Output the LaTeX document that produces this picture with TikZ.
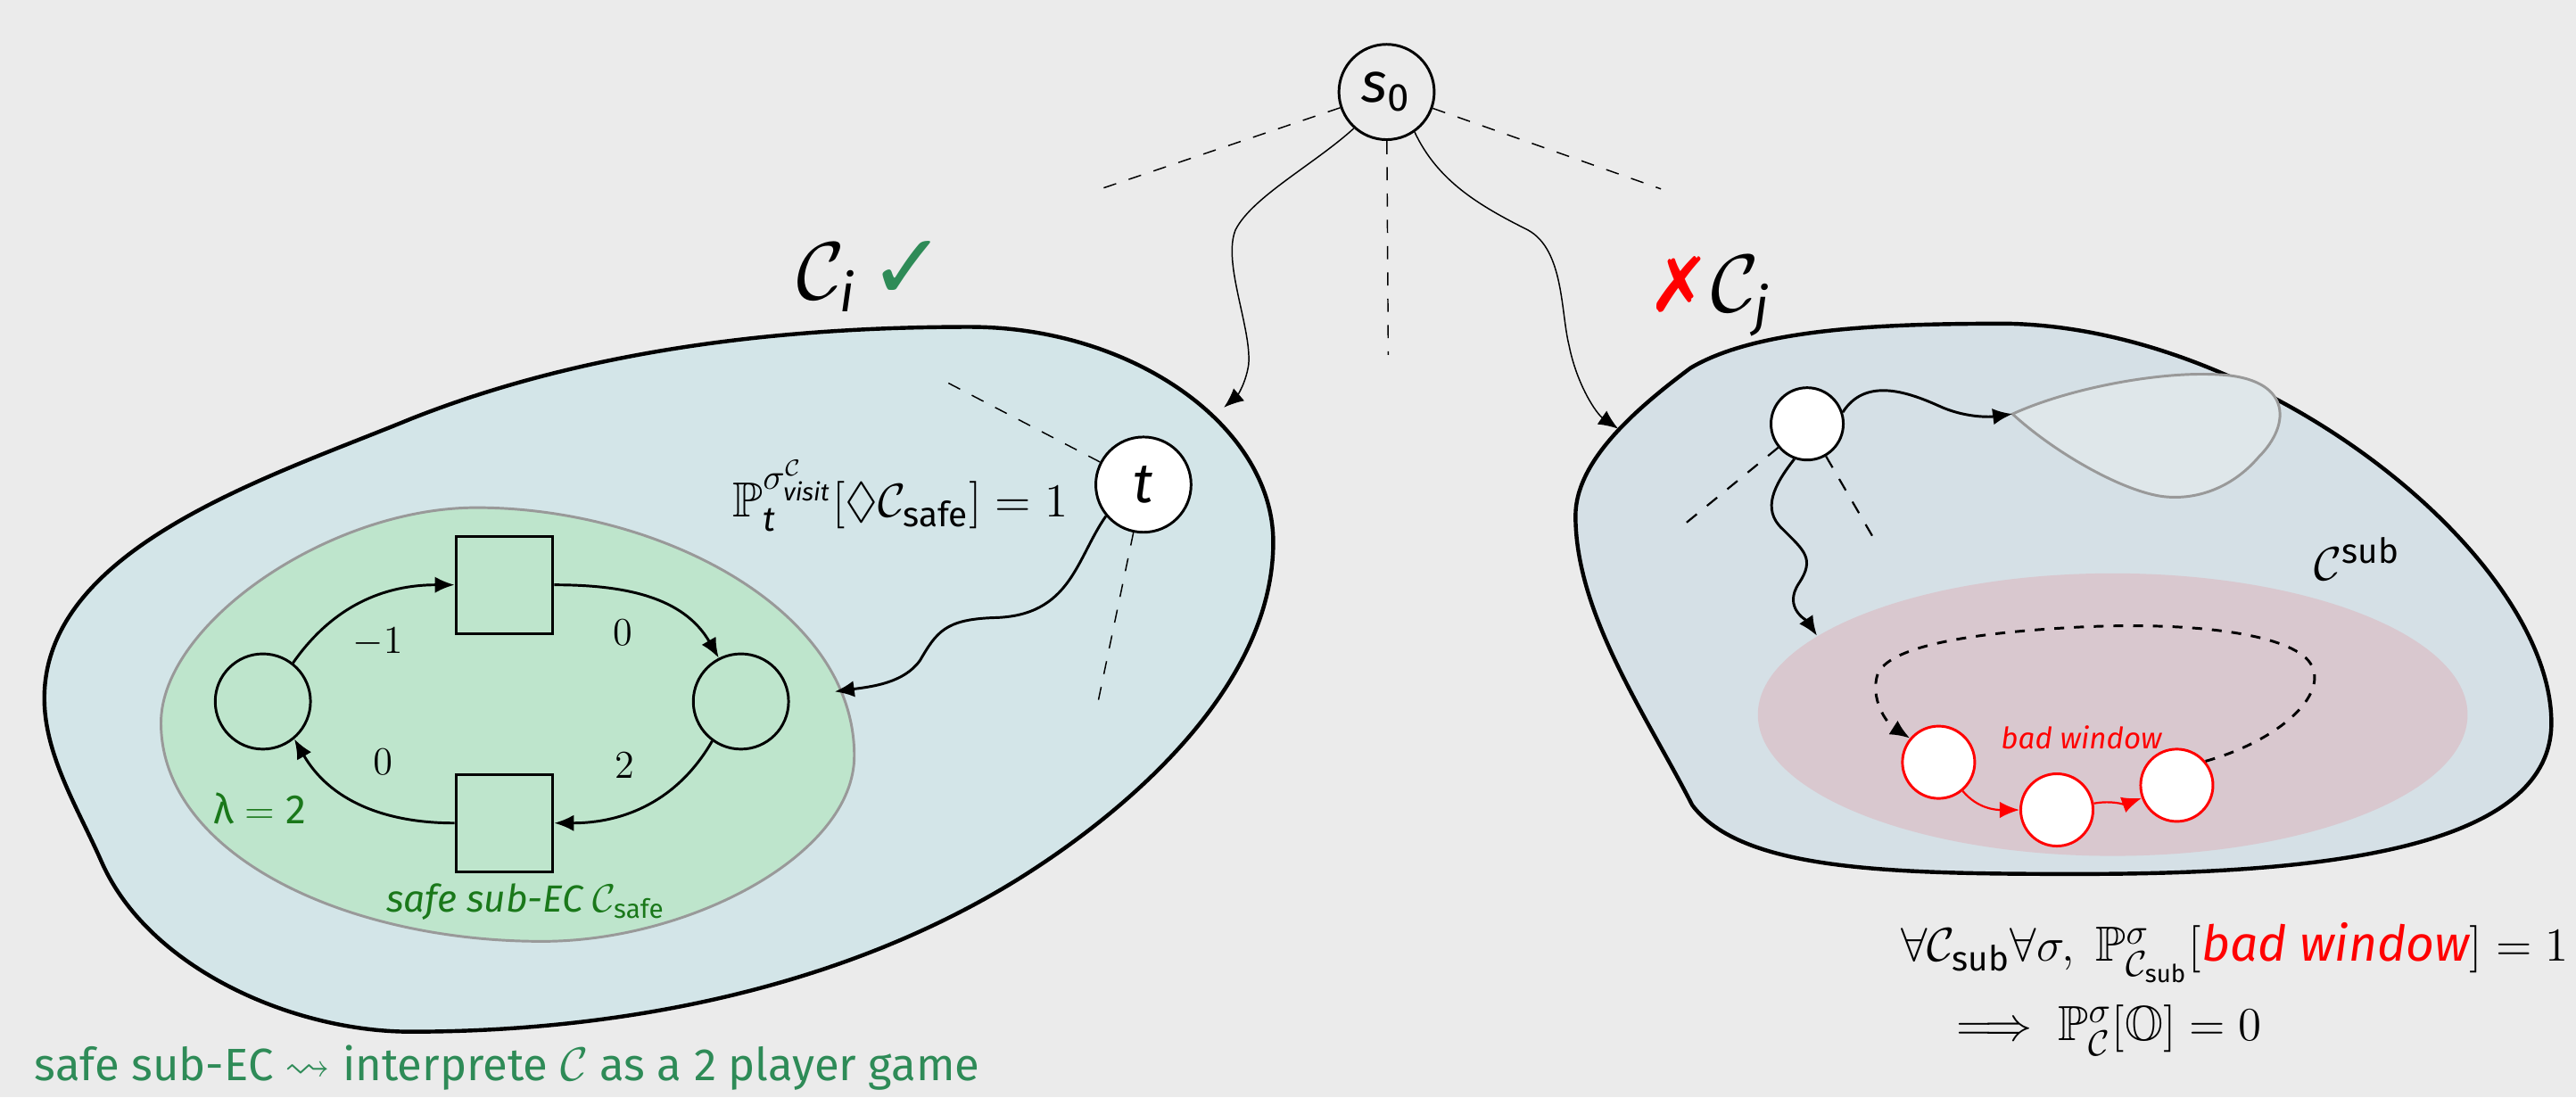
\documentclass[tikz,border=0pt]{standalone}
\usepackage{amsmath,amssymb}
\usepackage[no-math]{fontspec}
\setmainfont{Fira Sans}
\newfontfamily\dejavu{DejaVu Sans}
\usetikzlibrary{arrows.meta}
\definecolor{bg}{HTML}{EBEBEB}
\definecolor{blobA}{HTML}{D3E5E8}
\definecolor{blobB}{HTML}{D5E0E6}
\definecolor{safegreen}{HTML}{BEE5CC}
\definecolor{pinkish}{HTML}{D9C8CF}
\definecolor{greyblob}{HTML}{DFE7EA}
\definecolor{okgreen}{HTML}{2E8B57}
\definecolor{dgreen}{HTML}{1A781A}
\newcommand\mi[1]{\text{\itshape #1}}
\newcommand\mr[1]{\text{\upshape #1}}
\begin{document}
\begin{tikzpicture}[x=0.5pt,y=-0.5pt,
  state/.style={circle,draw,line width=0.8pt,minimum size=29pt,inner sep=0pt},
  sqbox/.style={rectangle,draw,line width=0.8pt,minimum size=29.5pt,inner sep=0pt},
  smallst/.style={circle,draw,line width=0.8pt,minimum size=22pt,inner sep=0pt,fill=white},
  arr/.style={line width=0.8pt,-{Latex[length=6pt,width=5pt]}},
  thinarr/.style={line width=0.4pt,-{Latex[length=6pt,width=5pt]}},
  dsh/.style={line width=0.4pt,dash pattern=on 4pt off 4pt},
  blobline/.style={line width=1.2pt},
  lbl/.style={font=\fontsize{12}{14}\selectfont},
  big/.style={font=\fontsize{15}{18}\selectfont},
]
\useasboundingbox (0,0) rectangle (1568,668);
\fill[bg] (0,0) rectangle (1568,668);

% ---------- left end component C_i
\draw[blobline,fill=blobA] (27,425) .. controls (27,333) and (165,290) .. (250,255) .. controls (356,213) and (475,199) .. (590,199) .. controls (690,199) and (775,260) .. (775,330) .. controls (775,415) and (692,490) .. (620,535) .. controls (512,602) and (377,628) .. (250,628) .. controls (179,628) and (91,590) .. (62,525) .. controls (48,493) and (27,460) .. (27,425) -- cycle;
\draw[line width=0.8pt,draw=black!40,fill=safegreen] (290,309) .. controls (400,309) and (520,370) .. (520,460) .. controls (520,520) and (420,573) .. (330,573) .. controls (210,573) and (98,520) .. (98,440) .. controls (98,380) and (200,309) .. (290,309) -- cycle;

% ---------- right end component C_j
\draw[blobline,fill=blobB] (1222,197) .. controls (1380,200) and (1553,340) .. (1553,440) .. controls (1553,520) and (1400,532) .. (1265,532) .. controls (1150,532) and (1060,530) .. (1030,490) .. controls (1003,437) and (959,374) .. (959,314) .. controls (959,280) and (997,248) .. (1029,224) .. controls (1071,199) and (1152,197) .. (1222,197) -- cycle;
\fill[pinkish] (1286,435) ellipse [x radius=108pt,y radius=43pt];
\draw[line width=0.8pt,draw=black!40,fill=greyblob] (1225,252) .. controls (1260,236) and (1315,226) .. (1350,228) .. controls (1395,230) and (1395,258) .. (1375,278) .. controls (1358,298) and (1335,305) .. (1315,302) .. controls (1290,298) and (1250,275) .. (1225,252) -- cycle;

% ---------- nodes
\node[state,font=\fontsize{17}{19}\selectfont] (s0) at (844,56) {$\mi{s}_{\mr{0}}$};
\node[state,fill=white,font=\fontsize{17}{19}\selectfont] (t) at (696,295) {$\mi{t}$};
\node[state] (L) at (160,427) {};
\node[state] (R) at (451,427) {};
\node[sqbox] (Tq) at (307,356) {};
\node[sqbox] (Bq) at (307,501) {};
\node[smallst] (u) at (1100,258) {};
\node[smallst,draw=red] (r1) at (1180,464) {};
\node[smallst,draw=red] (r2) at (1252,493) {};
\node[smallst,draw=red] (r3) at (1325,478) {};

% ---------- dashed stubs
\coordinate (d1) at (667,116);
\coordinate (d2) at (845,216);
\coordinate (d3) at (1011,115);
\coordinate (d4) at (575,232);
\coordinate (d5) at (668,429);
\coordinate (d6) at (1023,321);
\coordinate (d7) at (1143,332);
\draw[dsh] (s0) -- (d1);
\draw[dsh] (s0) -- (d2);
\draw[dsh] (s0) -- (d3);
\draw[dsh] (t) -- (d4);
\draw[dsh] (t) -- (d5);
\draw[dsh,line width=0.6pt] (u) -- (d6);
\draw[dsh,line width=0.6pt] (u) -- (d7);

% ---------- wavy paths from s0
\coordinate (ci) at (745,248);
\coordinate (cj) at (985,261);
\draw[thinarr] (s0.228) .. controls (800,100) and (762,120) .. (752,140) .. controls (744,160) and (762,200) .. (760,222) .. controls (758,235) and (752,242) .. (ci);
\draw[thinarr] (s0.-55) .. controls (875,110) and (900,125) .. (930,140) .. controls (952,152) and (950,190) .. (955,210) .. controls (960,235) and (972,252) .. (cj);

% ---------- from t into C_safe
\coordinate (gs) at (508,421);
\draw[arr] (t.220) .. controls (655,340) and (652,375) .. (605,376) .. controls (575,377) and (570,385) .. (560,402) .. controls (550,416) and (530,418) .. (gs);

% ---------- safe sub-EC game
\draw[arr] (L.52) to[out=55,in=180] (Tq.west);
\draw[arr] (Tq.east) to[out=0,in=120] (R.117);
\draw[arr] (R.-126) to[out=-120,in=0] (Bq.east);
\draw[arr] (Bq.west) to[out=180,in=-60] (L.-50);
\node[lbl] (e1) at (230,391) {$-1$};
\node[lbl] (e2) at (379,385) {$0$};
\node[lbl] (e3) at (233,464) {$0$};
\node[lbl] (e4) at (380,466) {$2$};
\node[font=\fontsize{12.5}{14}\selectfont,text=dgreen] (lam) at (158,492) {$\text{λ} = \text{2}$};
\node[font=\fontsize{11.5}{13}\selectfont,text=dgreen] (safe) at (320,549) {\itshape safe sub-EC $\mathcal{C}_{\mr{safe}}$};

% ---------- right component internals
\coordinate (gb) at (1225,252);
\coordinate (pk) at (1106,387);
\draw[arr] (u.18) .. controls (1135,230) and (1160,238) .. (1180,247) .. controls (1195,254) and (1210,254) .. (gb);
\draw[arr] (u.-110) .. controls (1080,295) and (1072,310) .. (1085,322) .. controls (1098,335) and (1105,340) .. (1095,355) .. controls (1085,370) and (1100,378) .. (pk);
\draw[arr,red,line width=0.6pt] (r1) to[out=-50,in=180] (r2);
\draw[arr,red,line width=0.6pt] (r2) to[out=10,in=200] (r3);
\draw[arr,dashed] (r3.40) .. controls (1390,450) and (1420,420) .. (1405,402) .. controls (1390,385) and (1330,378) .. (1260,382) .. controls (1190,386) and (1150,395) .. (1143,410) .. controls (1138,425) and (1148,440) .. (r1.140);
\node[font=\fontsize{9}{11}\selectfont,text=red] (bw) at (1267,449) {\itshape bad window};
\node[big] (csub) at (1435,340) {$\mathcal{C}^{\mr{sub}}$};

% ---------- labels
\node[font=\fontsize{23}{25}\selectfont,anchor=base west] (cilab) at (478,182) {$\mathcal{C}_{\mi{i}}$\,{\fontsize{28}{30}\selectfont\dejavu\color{okgreen}✓}};
\node[font=\fontsize{23}{25}\selectfont,anchor=base west] (cjlab) at (996,190) {{\dejavu\color{red}✗}$\mathcal{C}_{\mi{j}}$};
\node[big,anchor=east] (pf) at (657,302) {$\mathbb{P}_{\mi{t}}^{\sigma^{\mathcal{C}}_{\mi{visit}}}[\Diamond\mathcal{C}_{\mr{safe}}] = 1$};
\node[big,anchor=west] (f1) at (1150,580) {$\forall\mathcal{C}_{\mr{sub}}\forall\sigma,\ \mathbb{P}^{\sigma}_{\mathcal{C}_{\mr{sub}}}[\text{\color{red}\itshape bad window}] = 1$};
\node[big,anchor=west] (f2) at (1176,627) {$\implies \mathbb{P}^{\sigma}_{\mathcal{C}}[\mathbb{O}] = 0$};
\node[font=\fontsize{13.8}{16}\selectfont,text=okgreen,anchor=west] (bot) at (14,650) {safe sub-EC $\leadsto$ interprete $\mathcal{C}$ as a 2 player game};
\end{tikzpicture}
\end{document}
